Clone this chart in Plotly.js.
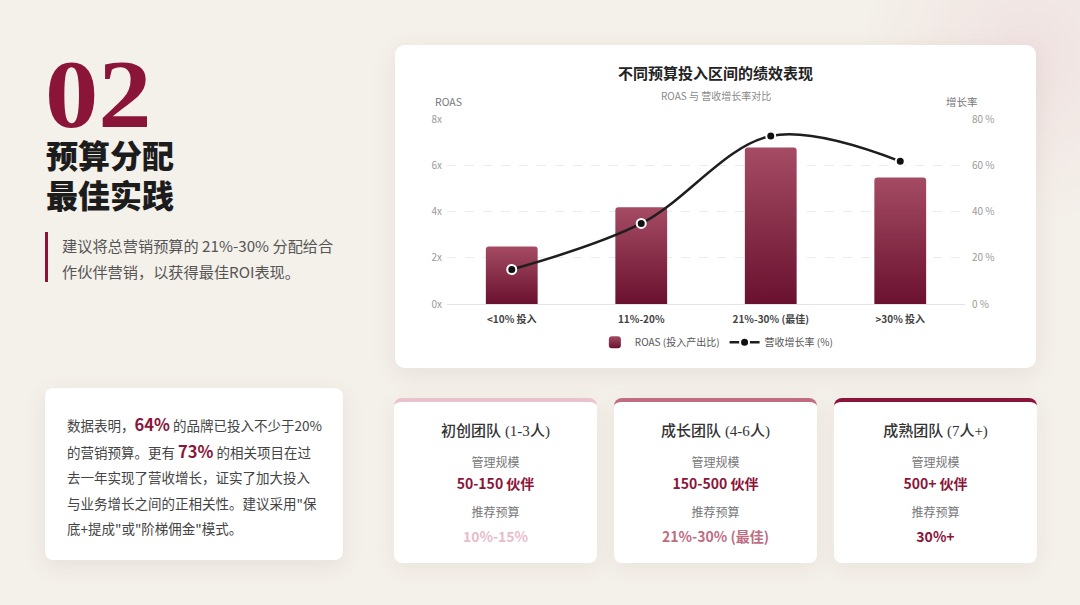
<!DOCTYPE html>
<html>
<head>
<meta charset="utf-8">
<script src="https://cdn.plot.ly/plotly-3.0.1.min.js"></script>
<style>
  * { margin: 0; padding: 0; box-sizing: border-box; }
  html, body { width: 1080px; height: 605px; overflow: hidden; }
  body {
    position: relative;
    font-family: "Noto Sans CJK SC", "Noto Sans", sans-serif;
    background: radial-gradient(circle at 1030px 55px, rgba(236, 214, 216, 0.55) 0, rgba(244, 240, 234, 0) 170px), #f4f0ea;
    color: #333;
  }
  .num {
    position: absolute; left: 45px; top: 59px; height: 72px;
    font-family: "Liberation Serif", "DejaVu Serif", serif;
    font-weight: bold; font-size: 97px; line-height: 72px;
    color: #8b1538; transform: scaleX(1.1); transform-origin: left center;
  }
  .head {
    position: absolute; left: 46px; top: 134px;
    font-size: 32px; font-weight: 900; line-height: 40px; color: #1c1c1c;
  }
  .quote {
    position: absolute; left: 45px; top: 232px; height: 50px;
    border-left: 3px solid #8b1538; padding-left: 14px;
    font-size: 15.2px; line-height: 26px; color: #555;
  }
  .info {
    position: absolute; left: 45px; top: 388px; width: 298px; height: 172px;
    background: #fff; border-radius: 8px;
    box-shadow: 0 6px 22px rgba(120, 90, 80, 0.10);
    padding: 24px 0 0 22px;
    font-size: 13.5px; line-height: 25.5px; color: #444;
  }
  .info b { color: #8b1538; font-size: 16.5px; }
  .chartcard {
    position: absolute; left: 395px; top: 45px; width: 641px; height: 323px;
    background: #fff; border-radius: 10px; overflow: hidden;
    box-shadow: 0 6px 24px rgba(120, 90, 80, 0.10);
  }
  .card {
    position: absolute; top: 398px; width: 203px; height: 165px;
    background: #fff; border-radius: 8px; border-top: 4px solid;
    box-shadow: 0 6px 22px rgba(120, 90, 80, 0.08);
    text-align: center;
  }
  .card .t { margin-top: 16px; font-size: 15px; font-weight: 500; color: #333; line-height: 24px; font-family: "Liberation Serif", "Noto Sans CJK SC", serif; }
  .card .t span { font-family: "Noto Sans CJK SC", sans-serif; }
  .card .l { font-size: 12px; color: #777; line-height: 18px; }
  .card .v { font-size: 14px; font-weight: bold; color: #8b1538; line-height: 24px; }
  .card .l1 { margin-top: 10px; }
  .card .l2 { margin-top: 8px; }
  .card .last { margin-top: 3px; }
</style>
</head>
<body>
<div class="num">02</div>
<div class="head">预算分配<br>最佳实践</div>
<div class="quote">建议将总营销预算的 21%-30% 分配给合<br>作伙伴营销，以获得最佳ROI表现。</div>
<div class="info">
  数据表明，<b>64%</b> 的品牌已投入不少于20%<br>
  的营销预算。更有 <b>73%</b> 的相关项目在过<br>
  去一年实现了营收增长，证实了加大投入<br>
  与业务增长之间的正相关性。建议采用"保<br>
  底+提成"或"阶梯佣金"模式。
</div>
<div class="chartcard"><div id="chart"></div></div>

<div class="card" style="left:394px;border-top-color:#e8c3cd;">
  <div class="t"><span>初创团队</span> (1-3<span>人</span>)</div>
  <div class="l l1">管理规模</div>
  <div class="v">50-150 伙伴</div>
  <div class="l l2">推荐预算</div>
  <div class="v last" style="color:#e9bccb;">10%-15%</div>
</div>
<div class="card" style="left:614px;border-top-color:#c06c82;">
  <div class="t"><span>成长团队</span> (4-6<span>人</span>)</div>
  <div class="l l1">管理规模</div>
  <div class="v">150-500 伙伴</div>
  <div class="l l2">推荐预算</div>
  <div class="v last" style="color:#c06c82;">21%-30% (最佳)</div>
</div>
<div class="card" style="left:834px;border-top-color:#8b1538;">
  <div class="t"><span>成熟团队</span> (7<span>人</span>+)</div>
  <div class="l l1">管理规模</div>
  <div class="v">500+ 伙伴</div>
  <div class="l l2">推荐预算</div>
  <div class="v last" style="color:#8b1538;">30%+</div>
</div>

<script>
const categories = ['<10% 投入', '11%-20%', '21%-30% (最佳)', '>30% 投入'];
const roas = [2.5, 4.2, 6.8, 5.5];
const growth = [15, 35, 73, 62];
const roasTicks = [0, 2, 4, 6, 8];
const roasTickText = ['0x', '2x', '4x', '6x', '8x'];
const growthTicks = [0, 20, 40, 60, 80];
const growthTickText = ['0 %', '20 %', '40 %', '60 %', '80 %'];

const tickGrey = '#9a9a9a';
const cjk = '"Noto Sans CJK SC", "Noto Sans", sans-serif';

Plotly.newPlot('chart', [{
  type: 'bar',
  name: 'ROAS (投入产出比)',
  x: categories,
  y: roas,
  marker: {color: '#8a2c47'},
  width: 0.4,
  hoverinfo: 'none',
}, {
  type: 'scatter',
  mode: 'lines+markers',
  name: '营收增长率 (%)',
  x: categories,
  y: growth,
  yaxis: 'y2',
  line: {color: '#1e1e1e', width: 2.5, shape: 'spline', smoothing: 1},
  marker: {color: '#111', size: 9, line: {color: '#fff', width: 2}},
  hoverinfo: 'none',
}], {
  width: 641,
  height: 323,
  margin: {l: 52, r: 71, t: 74, b: 63},
  paper_bgcolor: '#fff',
  plot_bgcolor: '#fff',
  font: {family: cjk, size: 10, color: '#666'},
  barcornerradius: 3,
  title: {
    text: '<b>不同预算投入区间的绩效表现</b>',
    font: {size: 15, color: '#222', family: cjk},
    x: 0.5, xref: 'container',
    y: 0.91, yref: 'container', yanchor: 'middle',
  },
  xaxis: {
    tickfont: {size: 10, color: '#444', weight: 'bold'},
    showline: true, linecolor: '#e4e4e4', linewidth: 1,
    ticks: '', showgrid: false, zeroline: false,
    ticklabelstandoff: 6,
  },
  yaxis: {
    range: [0, 8.04], tickvals: roasTicks, ticktext: roasTickText,
    tickfont: {size: 10, color: tickGrey},
    gridcolor: '#ebebf2', griddash: 'dash', gridwidth: 1,
    zeroline: false, ticklabelstandoff: 4,
  },
  yaxis2: {
    range: [0, 80.4], tickvals: growthTicks, ticktext: growthTickText,
    overlaying: 'y', side: 'right',
    tickfont: {size: 10, color: tickGrey},
    showgrid: false, zeroline: false, ticklabelstandoff: 6,
  },
  legend: {
    orientation: 'h', x: 0.52, xanchor: 'center', y: -0.2, yanchor: 'middle',
    font: {size: 10, color: '#555'}, itemwidth: 30,
  },
  annotations: [{
    text: 'ROAS 与 营收增长率对比', xref: 'paper', yref: 'paper',
    x: 0.52, y: 1.129, xanchor: 'center', yanchor: 'middle', showarrow: false,
    font: {size: 10, color: '#888'},
  }, {
    text: 'ROAS', xref: 'paper', yref: 'paper',
    x: -0.027, y: 1.097, xanchor: 'left', yanchor: 'middle', showarrow: false,
    font: {size: 10.5, color: '#777'},
  }, {
    text: '增长率', xref: 'paper', yref: 'paper',
    x: 1.029, y: 1.097, xanchor: 'right', yanchor: 'middle', showarrow: false,
    font: {size: 10.5, color: '#777'},
  }],
  showlegend: true,
}, {displayModeBar: false, staticPlot: true}).then(function(gd) {
  // vertical gradient for the ROAS bars and their legend swatch
  const ns = 'http://www.w3.org/2000/svg';
  const defs = gd.querySelector('svg.main-svg defs');
  const grad = document.createElementNS(ns, 'linearGradient');
  grad.setAttribute('id', 'roasGrad');
  grad.setAttribute('x1', '0'); grad.setAttribute('y1', '0');
  grad.setAttribute('x2', '0'); grad.setAttribute('y2', '1');
  [['0', '#a54b64'], ['1', '#69112f']].forEach(function(s) {
    const stop = document.createElementNS(ns, 'stop');
    stop.setAttribute('offset', s[0]);
    stop.setAttribute('stop-color', s[1]);
    grad.appendChild(stop);
  });
  defs.appendChild(grad);
  gd.querySelectorAll('.barlayer .point path, .legend .legendpoints path').forEach(function(p) {
    const fill = p.style.fill;
    if (fill && fill.indexOf('138, 44, 71') >= 0) p.style.fill = 'url(#roasGrad)';
  });
});
</script>
</body>
</html>
